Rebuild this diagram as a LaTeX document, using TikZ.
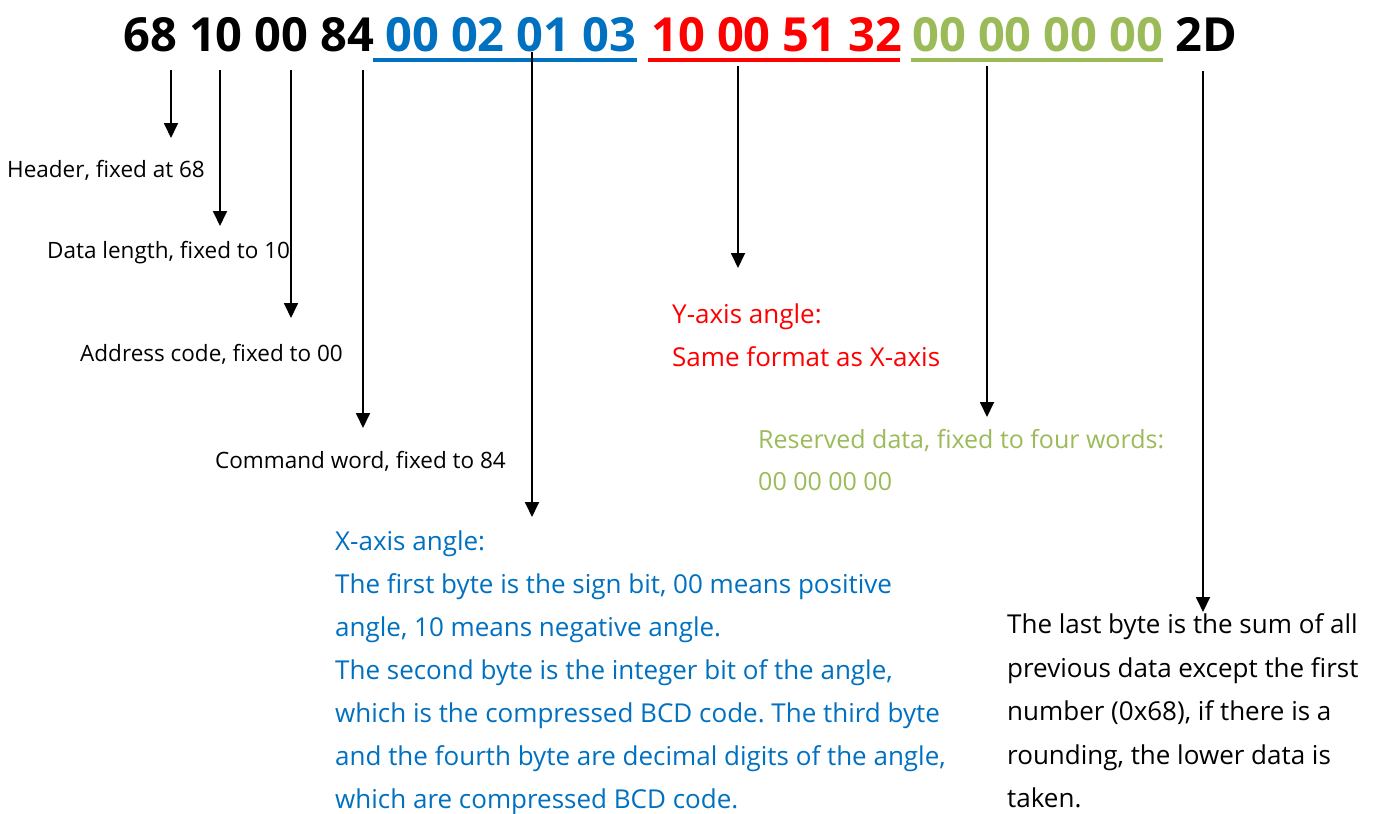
\documentclass[tikz,border=0pt]{standalone}
\usepackage{fontspec}
\setmainfont{Open Sans}
\usetikzlibrary{arrows.meta}
\definecolor{xblue}{HTML}{0070C0}
\definecolor{yred}{HTML}{FF0000}
\definecolor{rgreen}{HTML}{9BBB59}
\frenchspacing
\begin{document}
\begin{tikzpicture}[x=1pt,y=-1pt]
\tikzstyle{every node}+=[inner sep=0pt,anchor=base west]
\tikzstyle{hexbytes}=[font=\fontsize{47}{47}\selectfont\bfseries]
\tikzstyle{note}=[font=\fontsize{22.5}{22.5}\selectfont]
\tikzstyle{desc}=[font=\fontsize{26}{26}\selectfont]
\tikzstyle{pointer}=[draw=black,line width=1.8pt,-{Triangle[width=14pt,length=15pt]}]
\tikzstyle{bar}=[line width=4pt]
\useasboundingbox (0,0) rectangle (1377,814);
\node [hexbytes] (head) at (123,51) {68 10 00 84};
\node [hexbytes,xblue] (xbytes) at (385,51) {00 02 01 03};
\node [hexbytes,yred] (ybytes) at (651,51) {10 00 51 32};
\node [hexbytes,rgreen] (rbytes) at (912,51) {00 00 00 00};
\node [hexbytes] (sum) at (1175,51) {2D};
\draw [bar,xblue] (373,60) -- (637,60);
\draw [bar,yred] (648,60) -- (900,60);
\draw [bar,rgreen] (911,60) -- (1163,60);
\node [note] (hdr) at (7,177) {Header, fixed at 68};
\node [note] (len) at (47,258) {Data length, fixed to 10};
\node [note] (addr) at (80,361) {Address code, fixed to 00};
\node [note] (cmd) at (215,468) {Command word, fixed to 84};
\foreach \txt [count=\i from 0] in {{X-axis angle:},
  {The first byte is the sign bit, 00 means positive},
  {angle, 10 means negative angle.},
  {The second byte is the integer bit of the angle,},
  {which is the compressed BCD code. The third byte},
  {and the fourth byte are decimal digits of the angle,},
  {which are compressed BCD code.}}
  \node [desc,xblue] (xdesc\i) at (335,550+43*\i) {\txt};
\node [desc,yred] (ydesc0) at (672,323) {Y-axis angle:};
\node [desc,yred] (ydesc1) at (672,366) {Same format as X-axis};
\node [desc,rgreen,font=\fontsize{25}{25}\selectfont] (rdesc0) at (758,448) {Reserved data, fixed to four words:};
\node [desc,rgreen,font=\fontsize{25}{25}\selectfont] (rdesc1) at (758,490) {00 00 00 00};
\foreach \txt [count=\i from 0] in {{The last byte is the sum of all},
  {previous data except the first},
  {number (0x68), if there is a},
  {rounding, the lower data is},
  {taken.}}
  \node [desc] (sdesc\i) at (1007,633.5+43.5*\i) {\txt};
\coordinate (p1) at (171,70); \coordinate (q1) at (171,138);
\coordinate (p2) at (220,70); \coordinate (q2) at (220,226);
\coordinate (p3) at (291,70); \coordinate (q3) at (291,318);
\coordinate (p4) at (363,70); \coordinate (q4) at (363,428);
\coordinate (p5) at (532,52); \coordinate (q5) at (532,517);
\coordinate (p6) at (738,66); \coordinate (q6) at (738,268);
\coordinate (p7) at (987,66); \coordinate (q7) at (987,417);
\coordinate (p8) at (1203,71); \coordinate (q8) at (1203,612);
\foreach \i in {1,...,8}
  \draw [pointer] (p\i) -- (q\i);
\end{tikzpicture}
\end{document}
